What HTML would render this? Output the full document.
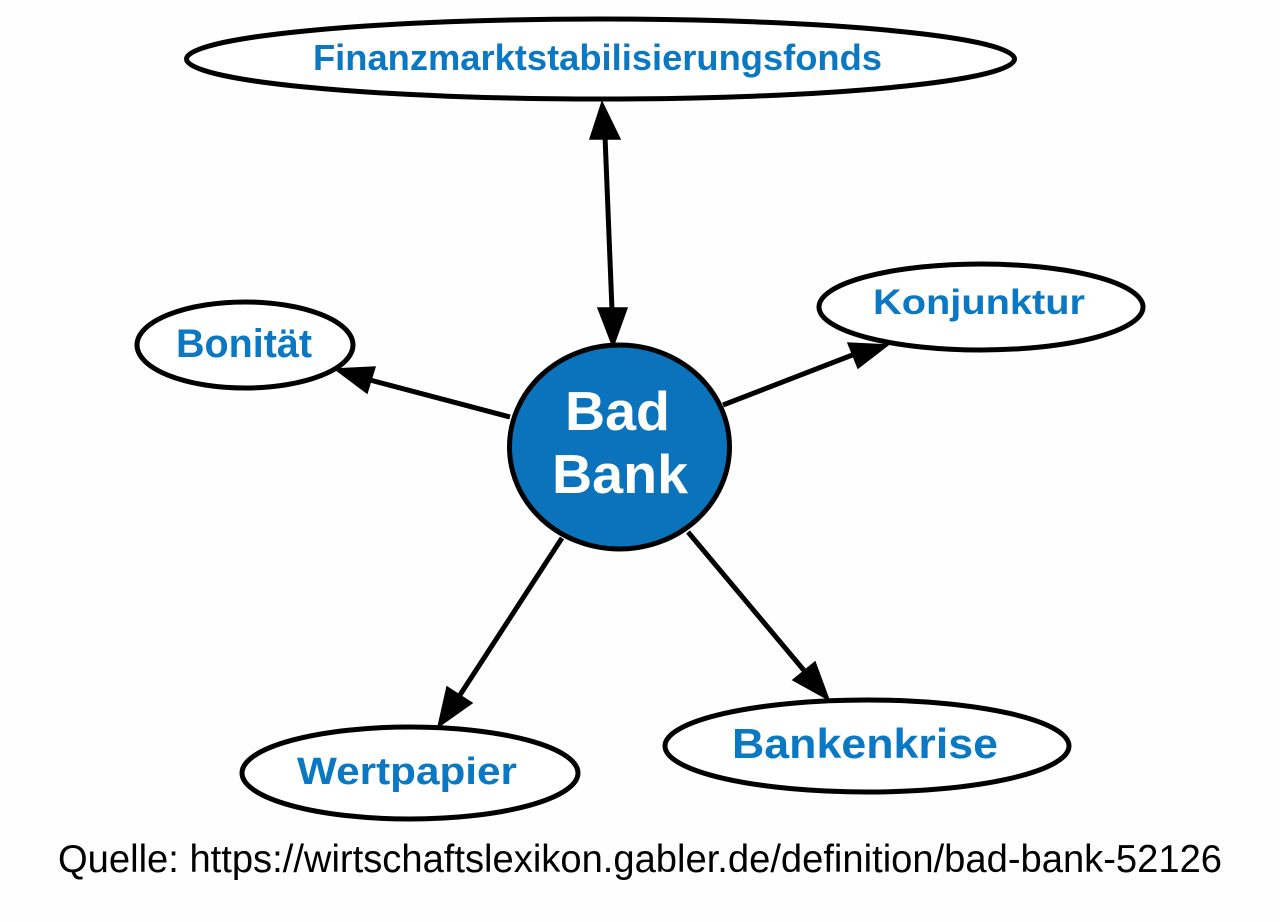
<!DOCTYPE html>
<html>
<head>
<meta charset="utf-8">
<style>
  html,body{margin:0;padding:0;background:#fefefe;}
  svg{display:block;}
  text{font-family:"Liberation Sans", Arial, sans-serif;}
</style>
</head>
<body>
<svg width="1280" height="922" viewBox="0 0 1280 922" xmlns="http://www.w3.org/2000/svg">
  <rect x="0" y="0" width="1280" height="922" fill="#fefefe"/>

  <!-- edges -->
  <g stroke="#000" stroke-width="5" fill="none" stroke-linecap="butt">
    <line x1="605" y1="136" x2="612" y2="310"/>
    <line x1="510" y1="417" x2="370" y2="380"/>
    <line x1="723" y1="405" x2="855" y2="354"/>
    <line x1="562" y1="538" x2="458" y2="698"/>
    <line x1="688" y1="532" x2="807" y2="674"/>
  </g>
  <g fill="#000" stroke="#000" stroke-width="1.5" stroke-linejoin="miter">
    <!-- top double arrow -->
    <polygon points="602,102 590,139 620,139"/>
    <polygon points="613,347 598,308 627,308"/>
    <!-- Bonität -->
    <polygon points="335,369 375,367 367,393"/>
    <!-- Konjunktur -->
    <polygon points="888,345 848,343 858,368"/>
    <!-- Wertpapier -->
    <polygon points="438,727 447,687 472,703"/>
    <!-- Bankenkrise -->
    <polygon points="829,700 793,680 815,662"/>
  </g>

  <!-- nodes -->
  <g stroke="#000" stroke-width="5" fill="#ffffff">
    <ellipse cx="600.5" cy="59" rx="414" ry="40"/>
    <ellipse cx="245" cy="345" rx="108" ry="43"/>
    <ellipse cx="981" cy="307" rx="162" ry="43"/>
    <ellipse cx="410" cy="773" rx="168" ry="46"/>
    <ellipse cx="867" cy="746" rx="202" ry="46"/>
    <ellipse cx="619.5" cy="447" rx="110" ry="102" fill="#0a73bb"/>
  </g>

  <!-- labels -->
  <g font-weight="bold" fill="#0a78c2" text-anchor="middle">
    <text x="597.5" y="70" font-size="36" textLength="569" lengthAdjust="spacingAndGlyphs">Finanzmarktstabilisierungsfonds</text>
    <text x="244" y="357" font-size="40" textLength="136" lengthAdjust="spacingAndGlyphs">Bonität</text>
    <text x="979" y="314" font-size="35" textLength="212" lengthAdjust="spacingAndGlyphs">Konjunktur</text>
    <text x="407" y="784" font-size="38" textLength="220" lengthAdjust="spacingAndGlyphs">Wertpapier</text>
    <text x="865" y="758" font-size="42" textLength="266" lengthAdjust="spacingAndGlyphs">Bankenkrise</text>
  </g>
  <g font-weight="bold" fill="#ffffff" text-anchor="middle">
    <text x="617.5" y="430" font-size="55" textLength="105" lengthAdjust="spacingAndGlyphs">Bad</text>
    <text x="620" y="493" font-size="55" textLength="136" lengthAdjust="spacingAndGlyphs">Bank</text>
  </g>

  <!-- footer -->
  <text x="58" y="872" font-size="39" fill="#000" textLength="1164" lengthAdjust="spacingAndGlyphs">Quelle: https://wirtschaftslexikon.gabler.de/definition/bad-bank-52126</text>
</svg>
</body>
</html>
